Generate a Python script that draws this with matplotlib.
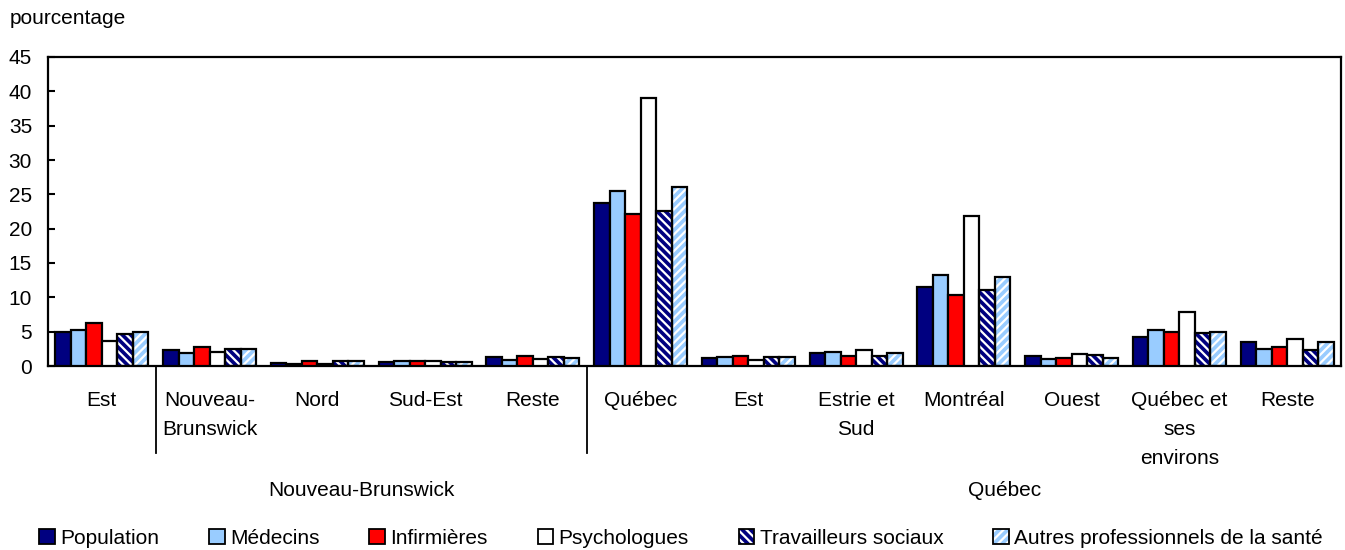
"""
Répartition en pourcentage, par région, de la population et des professionnels
de la santé (Nouveau-Brunswick et Québec). Barres groupées, 6 séries.

Saves out.png (1345x550).
"""

import matplotlib

matplotlib.use("Agg")

import matplotlib.pyplot as plt  # noqa: E402
from matplotlib.patches import Patch  # noqa: E402
from matplotlib.transforms import blended_transform_factory  # noqa: E402

plt.rcParams["font.family"] = ["Liberation Sans", "DejaVu Sans"]
plt.rcParams["hatch.linewidth"] = 1.6

# --- data -------------------------------------------------------------------
regions = [
    "Est", "Nouveau-\nBrunswick", "Nord", "Sud-Est", "Reste",
    "Québec", "Est", "Estrie et\nSud", "Montréal", "Ouest",
    "Québec et\nses\nenvirons", "Reste",
]
series_names = [
    "Population", "Médecins", "Infirmières", "Psychologues",
    "Travailleurs sociaux", "Autres professionnels de la santé",
]
population = [4.9, 2.3, 0.5, 0.55, 1.3, 23.7, 1.2, 1.9, 11.5, 1.45, 4.2, 3.5]
medecins = [5.3, 1.9, 0.3, 0.7, 0.9, 25.5, 1.3, 2.0, 13.3, 1.0, 5.2, 2.5]
infirmieres = [6.2, 2.8, 0.7, 0.8, 1.4, 22.2, 1.4, 1.5, 10.3, 1.15, 4.9, 2.8]
psychologues = [3.7, 2.1, 0.3, 0.75, 1.0, 39.1, 0.9, 2.3, 21.8, 1.75, 7.9, 4.0]
travailleurs = [4.6, 2.5, 0.75, 0.55, 1.3, 22.6, 1.3, 1.4, 11.0, 1.55, 4.75, 2.3]
autres = [5.0, 2.5, 0.7, 0.6, 1.1, 26.1, 1.3, 1.95, 12.9, 1.15, 5.0, 3.5]
values = [population, medecins, infirmieres, psychologues, travailleurs, autres]

provinces = ["Nouveau-Brunswick", "Québec"]
yticks = [0, 5, 10, 15, 20, 25, 30, 35, 40, 45]

# --- styles -----------------------------------------------------------------
NAVY = "#000080"
LIGHT = "#99CCFF"
styles = [
    dict(face=NAVY, hatch=None),
    dict(face=LIGHT, hatch=None),
    dict(face="#FF0000", hatch=None),
    dict(face="white", hatch=None),
    dict(face=NAVY, hatch="\\\\\\\\"),
    dict(face=LIGHT, hatch="////"),
]
BAR_W = 0.144
EDGE_LW = 1.6
FS = 15

fig = plt.figure(figsize=(13.45, 5.5), dpi=100)
ax = fig.add_axes([48 / 1345, 1 - 366 / 550, (1341 - 48) / 1345, (366 - 57) / 550])

x = list(range(len(regions)))
handles = []
for i, (vals, st) in enumerate(zip(values, styles)):
    xs = [xi + (i - 2.5) * BAR_W for xi in x]
    if st["hatch"]:
        ax.bar(xs, vals, BAR_W, color=st["face"], edgecolor="white",
               hatch=st["hatch"], linewidth=0, zorder=2)
        ax.bar(xs, vals, BAR_W, fill=False, edgecolor="black",
               linewidth=EDGE_LW, zorder=3)
        h = (Patch(facecolor=st["face"], edgecolor="white", hatch=st["hatch"],
                   linewidth=0),
             Patch(fill=False, edgecolor="black", linewidth=1.3))
    else:
        ax.bar(xs, vals, BAR_W, color=st["face"], edgecolor="black",
               linewidth=EDGE_LW, zorder=3)
        h = Patch(facecolor=st["face"], edgecolor="black", linewidth=1.3)
    handles.append(h)

ax.set_xlim(-0.5, len(regions) - 0.5)
ax.set_ylim(0, 45)
ax.set_yticks(yticks)
ax.tick_params(axis="y", direction="in", length=5, width=1.5, pad=11.5,
               labelsize=FS)
ax.set_xticks(x)
ax.set_xticklabels(regions, fontsize=FS, linespacing=1.65, va="top")
ax.tick_params(axis="x", length=0, pad=18)
for sp in ax.spines.values():
    sp.set_linewidth(1.6)

# separators between the province blocks, below the axis
trans = blended_transform_factory(ax.transData, ax.transAxes)
for xb in [0.5, 4.5]:
    ax.plot([xb, xb], [0, -0.28], color="black", lw=1.3, transform=trans,
            clip_on=False)

# province labels under the region labels
for name, xp in zip(provinces, [2.41, 8.38]):
    ax.text(xp, -0.403, name, transform=trans, ha="center", va="center",
            fontsize=FS)

fig.text(10 / 1345, 1 - 24 / 550, "pourcentage", fontsize=FS, va="baseline")

fig.legend(handles, series_names, loc="center", ncol=6,
           bbox_to_anchor=(681 / 1345, 1 - 538 / 550), frameon=False,
           fontsize=FS, handlelength=0.75, handleheight=0.75,
           handletextpad=0.25, columnspacing=2.4, borderpad=0)

fig.savefig("out.png", dpi=100)
